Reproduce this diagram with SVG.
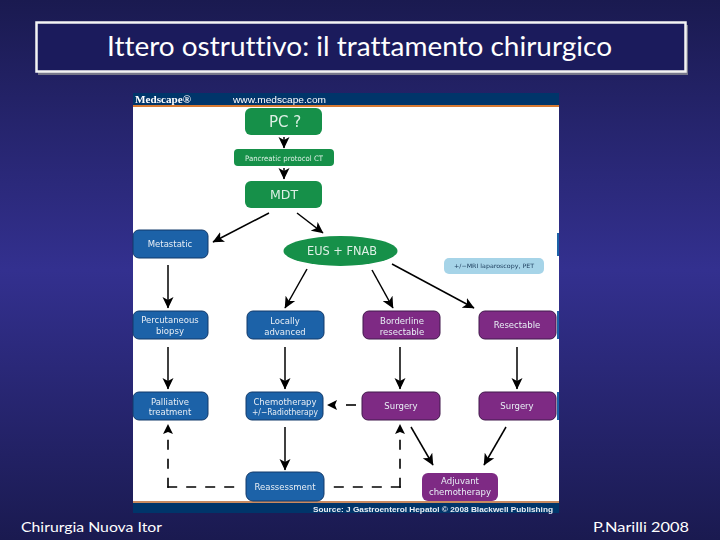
<svg xmlns="http://www.w3.org/2000/svg" width="720" height="540" viewBox="0 0 720 540">
<style>
.slide{font-family:"Lato","Open Sans",sans-serif;fill:#fff;font-variant-ligatures:none}
.lbl{font-family:"DejaVu Sans",sans-serif;fill:#e8eef5;text-anchor:middle;font-size:8.5px}
.big{font-family:"DejaVu Sans",sans-serif;fill:#dff0e6;text-anchor:middle}
.g{fill:#149048}
.b{fill:#1c62a8;stroke:#123a6a;stroke-width:1}
.p{fill:#7e2c84;stroke:#40164a;stroke-width:1}
.c{fill:none;stroke:#000;stroke-width:1.5;marker-end:url(#ah)}
.d{fill:none;stroke:#000;stroke-width:1.6;stroke-dasharray:10 9}
</style>
<defs>
<linearGradient id="bg" x1="0" y1="0" x2="0" y2="1">
<stop offset="0" stop-color="#1a1a50"/><stop offset="0.5" stop-color="#33308f"/><stop offset="1" stop-color="#1a1a50"/>
</linearGradient>
<marker id="ah" markerUnits="userSpaceOnUse" viewBox="0 0 12 12" refX="11" refY="6" markerWidth="12" markerHeight="12" orient="auto">
<path d="M0,0.5 L11.5,6 L0,11.5 L3,6 Z" fill="#000"/>
</marker>
<filter id="soft" x="-5%" y="-5%" width="110%" height="110%"><feGaussianBlur stdDeviation="0.35"/></filter>
</defs>
<rect width="720" height="540" fill="url(#bg)"/>
<g id="title">
<rect x="38" y="25" width="650" height="50" fill="#77778a"/>
<rect x="36.500" y="22.500" width="649" height="49" fill="#1b1b5c" stroke="#f4f4f4" stroke-width="2.500"/>
<text class="slide" x="107" y="56" font-size="26" textLength="505" lengthAdjust="spacingAndGlyphs">Ittero ostruttivo: il trattamento chirurgico</text>
</g>
<g id="chart" filter="url(#soft)">
<rect x="133" y="93" width="426" height="13" fill="#04356b"/>
<rect x="133" y="106" width="426" height="395" fill="#fff"/>
<rect x="133" y="105" width="426" height="2" fill="#d87a30"/>
<rect x="133" y="501" width="426" height="2" fill="#c98a60"/>
<rect x="133" y="503" width="426" height="10" fill="#04356b"/>
<text x="135" y="103" font-family="Liberation Serif,serif" font-weight="bold" font-size="9.500" fill="#fff" textLength="56" lengthAdjust="spacingAndGlyphs">Medscape®</text>
<text x="233" y="103" font-family="Liberation Sans,sans-serif" font-size="8.500" fill="#fff" textLength="93" lengthAdjust="spacingAndGlyphs">www.medscape.com</text>
<text x="313" y="512" font-family="Liberation Sans,sans-serif" font-weight="bold" font-size="7.500" fill="#e8eef5" textLength="240" lengthAdjust="spacingAndGlyphs">Source: J Gastroenterol Hepatol © 2008 Blackwell Publishing</text>
<g id="connectors">
<path class="c" d="M284,137V148"/>
<path class="c" d="M284,168V179"/>
<path class="c" d="M269,213L213,242"/>
<path class="c" d="M297,213L323,233"/>
<path class="c" d="M168,265V308"/>
<path class="c" d="M307,269L285,308"/>
<path class="c" d="M372,270L393,308"/>
<path class="c" d="M392,264L474,308"/>
<path class="c" d="M168,347V389"/>
<path class="c" d="M285,347V389"/>
<path class="c" d="M400,347V389"/>
<path class="c" d="M517,347V389"/>
<path class="c" d="M285,427V470"/>
<path class="d" d="M356,405H346"/>
<path d="M327,405L337,400L335,405L337,410Z" fill="#000"/>
<path class="c" d="M411,427L433,465"/>
<path class="c" d="M506,427L484,465"/>
<path class="d" d="M168,487.800V432"/>
<path class="d" d="M167.200,487H240"/>
<path d="M168,424L173,434L168,432L163,434Z" fill="#000"/>
<path class="d" d="M400,487.800V432"/>
<path class="d" d="M400.800,487H330"/>
<path d="M400,424L405,434L400,432L395,434Z" fill="#000"/>
</g>
<g id="n-pc"><rect class="g" x="245" y="108" width="77" height="27" rx="6"/><text class="big" x="285" y="127" font-size="15">PC ?</text></g>
<g id="n-ct"><rect class="g" x="234" y="149" width="100" height="17" rx="4"/><text class="big" x="284" y="161" font-size="7.500" textLength="78" lengthAdjust="spacingAndGlyphs">Pancreatic protocol CT</text></g>
<g id="n-mdt"><rect class="g" x="245" y="181" width="77" height="27" rx="6"/><text class="big" x="284" y="199" font-size="12.500">MDT</text></g>
<g id="n-metastatic"><rect class="b" x="133" y="230" width="75" height="28" rx="6"/><text class="lbl" x="170" y="247">Metastatic</text></g>
<g id="n-eus"><ellipse class="g" cx="340.500" cy="251" rx="57" ry="15"/><text class="big" x="342" y="255" font-size="12" textLength="70" lengthAdjust="spacingAndGlyphs">EUS + FNAB</text></g>
<g id="n-info"><rect x="444" y="258" width="100" height="16" rx="5" fill="#a6d4e8"/><text x="494" y="268" font-family="DejaVu Sans,sans-serif" font-size="6" fill="#1a3a5a" text-anchor="middle" textLength="80" lengthAdjust="spacingAndGlyphs">+/−MRI laparoscopy, PET</text></g>
<g id="n-percutaneous"><rect class="b" x="133" y="311" width="75" height="28" rx="6"/><text class="lbl" x="170" y="323">Percutaneous</text><text class="lbl" x="170" y="334">biopsy</text></g>
<g id="n-locally"><rect class="b" x="247" y="311" width="77" height="28" rx="6"/><text class="lbl" x="285" y="324">Locally</text><text class="lbl" x="285" y="335">advanced</text></g>
<g id="n-borderline"><rect class="p" x="363" y="311" width="77" height="28" rx="6"/><text class="lbl" x="402" y="324">Borderline</text><text class="lbl" x="402" y="335">resectable</text></g>
<g id="n-resectable"><rect class="p" x="479" y="311" width="77" height="28" rx="6"/><text class="lbl" x="517" y="328">Resectable</text></g>
<g id="n-palliative"><rect class="b" x="133" y="392" width="75" height="28" rx="6"/><text class="lbl" x="170" y="405">Palliative</text><text class="lbl" x="170" y="415">treatment</text></g>
<g id="n-chemo"><rect class="b" x="246" y="392" width="77" height="28" rx="6"/><text class="lbl" x="285" y="405" font-size="8.200">Chemotherapy</text><text class="lbl" x="285" y="415" font-size="8" textLength="66" lengthAdjust="spacingAndGlyphs">+/−Radiotherapy</text></g>
<g id="n-surgery1"><rect class="p" x="362" y="392" width="78" height="28" rx="6"/><text class="lbl" x="401" y="409">Surgery</text></g>
<g id="n-surgery2"><rect class="p" x="479" y="392" width="77" height="28" rx="6"/><text class="lbl" x="517" y="409">Surgery</text></g>
<g id="n-reassessment"><rect class="b" x="246" y="472" width="78" height="29" rx="7"/><text class="lbl" x="285" y="490">Reassessment</text></g>
<g id="n-adjuvant"><rect x="422" y="473" width="76" height="28" rx="6" fill="#7e2c84"/><text class="lbl" x="460" y="484">Adjuvant</text><text class="lbl" x="460" y="495">chemotherapy</text></g>
<rect x="557" y="233" width="2" height="23" fill="#1c62a8"/>
<rect x="557" y="311" width="2" height="28" fill="#1c62a8"/>
<rect x="557" y="392" width="2" height="28" fill="#1c62a8"/>
</g>
<g id="footer">
<text class="slide" x="21" y="532" font-size="14" textLength="141" lengthAdjust="spacingAndGlyphs">Chirurgia Nuova Itor</text>
<text class="slide" x="593" y="532" font-size="14" textLength="96" lengthAdjust="spacingAndGlyphs">P.Narilli 2008</text>
</g>
</svg>
